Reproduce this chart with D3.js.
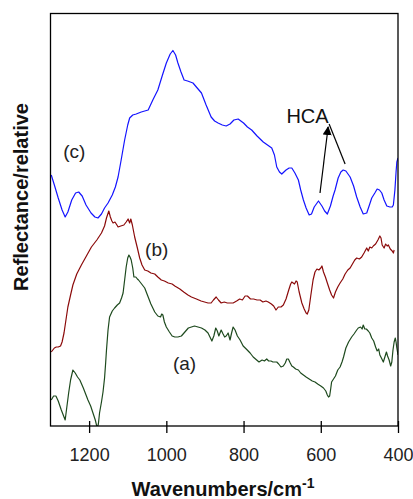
<!DOCTYPE html>
<html><head><meta charset="utf-8">
<script src="https://cdn.jsdelivr.net/npm/d3@7/dist/d3.min.js"></script>
<style>body{margin:0;background:#fff}svg{display:block}text{font-family:Arial,"Liberation Sans",sans-serif}</style>
</head><body>
<script>
// Wavenumbers (cm-1) and relative reflectance for each spectrum
const wnC = [1298,1290,1280,1270,1262,1255,1245,1235,1227,1218,1208,1195,1185,1177,1168,1160,1151,1140,1132,1125,1117,1108,1100,1095,1087,1078,1065,1047,1035,1022,1010,1000,990,983,976,970,962,954,945,931,920,909,897,884,875,866,855,845,835,825,814,800,790,779,765,749,738,727,720,714,707,701,690,682,675,667,658,652,645,638,630,624,617,606,597,590,583,575,568,563,555,548,542,535,524,515,507,498,490,481,474,468,460,454,448,442,436,429,421,415,412,408,405,403,400];
const valC = [251,241,228,216,209,214,226,233,234,230,221,213,209,208,212,218,223,231,239,249,266,286,301,308,311,312,314,316,326,336,351,363,372,375.5,371,363,354,346,345,343,338,333,321,309,305,303,301,300,302,306,307,303,299,296,290,284,281,278,271,259,254,252,256,258,258,253,246,236,226,218,211,212,219,225,220,215,212,220,230,236,248,254,256,255,249,240,229,219,212,213,221,228,233,237,236,233,226,220,219,219,221,236,254,264,268];

const wnB = [1298,1290,1285,1280,1274,1270,1265,1260,1255,1248,1242,1232,1220,1207,1194,1180,1168,1160,1155,1149,1145,1141,1138,1133,1128,1125,1118,1110,1104,1099,1095,1092,1088,1082,1075,1069,1063,1056,1048,1040,1030,1022,1013,1005,995,985,978,965,955,944,935,922,910,901,892,884,878,871,865,858,850,842,835,827,818,810,803,796,790,782,774,765,757,750,742,736,728,722,716,710,703,697,690,683,678,675,668,664,661,656,649,643,638,635,631,626,620,615,610,605,600,597,593,588,583,577,572,567,562,556,550,543,537,530,524,518,512,507,500,494,488,481,477,473,468,464,458,452,447,444,441,436,432,428,425,420,415,412,410];
const valB = [74,78,79,79,80,84,93,106,119,131,141,152,161,170,179,186,193,200,208,215,209,205,203,204,201,199,200,201,204,207,203,207,201,189,178,168,161,156,155,153,152,149,146,145,143,142,140,137,134,131,129,127,125,124,123,123,126,129,126,123,124,123,123,123,125,127,126,130,130,127,127,126,126,124,125,124,122,120,116,119,119,121,127,136,142,144,142,145,144,134,123,117,113,112,116,130,146,154,157,156,158,160,154,149,143,136,131,128,134,139,143,147,152,156,158,162,166,168,167,169,173,178,175,179,178,180,182,186,190,188,181,178,182,180,181,177,175,173,176];

const wnA = [1298,1292,1286,1280,1272,1266,1262,1258,1253,1248,1242,1236,1230,1224,1215,1208,1203,1196,1190,1184,1179,1176,1173,1168,1164,1160,1157,1155,1151,1147,1140,1134,1127,1121,1116,1112,1108,1104,1100,1097,1094,1091,1087,1084,1079,1075,1072,1064,1056,1048,1040,1030,1022,1015,1012,1009,1005,1000,992,985,978,970,961,952,943,935,927,918,909,900,892,887,882,877,872,868,864,861,858,853,849,845,840,835,831,827,822,816,809,801,793,783,775,766,760,752,746,740,735,729,724,719,714,709,703,697,692,688,684,679,675,671,665,658,652,645,638,630,622,615,608,600,593,587,583,580,577,574,572,567,562,556,550,545,541,535,528,520,514,507,503,497,493,490,486,482,477,473,468,463,458,454,450,447,443,438,434,430,427,423,419,416,413,410,407,405,403,400];
const valA = [26,30,30,25,16,10,6,18,33,46,56,53,49,46,38,31,26,20,13,6,-2,2,13,24,34,48,64,76,96,109,115,118,121,123,128,133,146,159,168,171,169,166,158,149,149,147,146,142,138,130,122,114,110,109,112,111,104,99,94,90,89,89,90,94,98,99,100,99,98,96,93,89,85,90,98,95,90,93,96,92,89,90,93,86,93,99,96,90,86,80,77,73,69,66,64,66,65,67,65,65,64,64,64,62,59,60,63,67,67,63,60,59,57,56,53,51,49,47,45,44,42,40,38,35,31,29,30,38,44,47,50,56,59,64,69,78,84,89,92,96,98,99,97,101,97,97,95,93,88,85,79,75,77,71,68,64,69,74,70,66,60,64,76,84,88,84,78,71];

const xTicks = [1200,1000,800,600,400];
const seriesLabels = ["(a)","(b)","(c)"];
const colors = ["#1e4a1e","#8b0a0a","#1414ff"];

const W = 413, H = 499;
const m = {left:50.5, right:15, top:13.5, bottom:73};
const x = d3.scaleLinear().domain([1300,400]).range([m.left, W-m.right]);
const y = d3.scaleLinear().domain([0,412.5]).range([H-m.bottom, m.top]);

const svg = d3.select("body").append("svg").attr("width",W).attr("height",H);
svg.append("defs").append("clipPath").attr("id","clip").append("rect")
  .attr("x",m.left).attr("y",m.top).attr("width",W-m.right-m.left).attr("height",H-m.bottom-m.top);

const line = d3.line().x(d=>x(d[0])).y(d=>y(d[1]));
const series = [[wnA,valA],[wnB,valB],[wnC,valC]];
series.forEach((s,i)=>{
  svg.append("path").datum(d3.zip(s[0],s[1])).attr("d",line)
    .attr("fill","none").attr("stroke",colors[i]).attr("stroke-width",1.2)
    .attr("stroke-linejoin","round").attr("clip-path","url(#clip)");
});

// frame
svg.append("rect").attr("x",m.left).attr("y",m.top).attr("width",W-m.right-m.left).attr("height",H-m.bottom-m.top)
  .attr("fill","none").attr("stroke","#000").attr("stroke-width",1.3);

// x axis
const xa = svg.append("g").attr("transform",`translate(0,${H-m.bottom})`)
  .call(d3.axisBottom(x).tickValues(xTicks).tickFormat(d3.format("d")).tickSize(7).tickPadding(15).tickSizeOuter(0));
xa.select(".domain").remove();
xa.selectAll(".tick line").attr("y1",-5).attr("stroke","#000").attr("stroke-width",1.3);
xa.selectAll(".tick text").attr("font-size",18).attr("fill","#222").attr("font-family","Arial, Liberation Sans, sans-serif");

// axis titles
const xt = svg.append("text").attr("x",223).attr("y",496).attr("text-anchor","middle")
  .attr("font-size",20).attr("font-weight","bold").attr("fill","#111");
xt.append("tspan").text("Wavenumbers/cm");
xt.append("tspan").attr("dy",-8).attr("font-size",14).text("-1");

svg.append("text").attr("transform","translate(28,197) rotate(-90)").attr("text-anchor","middle")
  .attr("font-size",20).attr("font-weight","bold").attr("fill","#111").text("Reflectance/relative");

// series labels
const labelPos = [[983,56],[1055,170],[1267,268]];
seriesLabels.forEach((t,i)=>{
  svg.append("text").attr("x",x(labelPos[i][0])).attr("y",y(labelPos[i][1]))
    .attr("font-size",19).attr("fill","#222").text(t);
});

// HCA annotation
svg.append("text").attr("x",x(689)).attr("y",y(303)).attr("font-size",20).attr("fill","#111").text("HCA");
svg.append("defs").append("marker").attr("id","arr").attr("viewBox","0 0 10 10").attr("refX",9).attr("refY",5)
  .attr("markerWidth",9).attr("markerHeight",9).attr("markerUnits","userSpaceOnUse").attr("orient","auto")
  .append("path").attr("d","M0,0L10,5L0,10Z").attr("fill","#000");
const tip = [581,299];
svg.append("line").attr("x1",x(602)).attr("y1",y(233)).attr("x2",x(tip[0])).attr("y2",y(tip[1]))
  .attr("stroke","#000").attr("stroke-width",1.2).attr("marker-end","url(#arr)");
svg.append("line").attr("x1",x(537)).attr("y1",y(262)).attr("x2",x(tip[0])+1).attr("y2",y(tip[1])-3)
  .attr("stroke","#000").attr("stroke-width",1.2);
</script>
</body></html>
